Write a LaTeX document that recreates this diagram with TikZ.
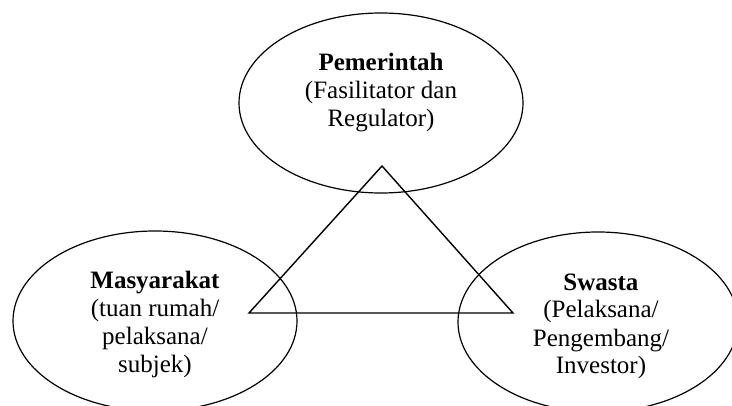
\documentclass[tikz,border=0pt]{standalone}
\usepackage{fontspec}
\setmainfont{Liberation Serif}
\usetikzlibrary{shapes.geometric}
\begin{document}
\begin{tikzpicture}[x=1pt,y=-1pt,
  actor/.style={draw,ellipse,line width=1.2pt,inner sep=0pt},
  lbl/.style={align=center,font=\fontsize{25}{28}\selectfont,inner sep=0pt,anchor=base},
  tri/.style={line width=1.4pt,line join=miter}]
\useasboundingbox (0,0) rectangle (732,406);
\clip (0,0) rectangle (732,406);
\node[actor,minimum width=284pt,minimum height=180pt] (gov) at (381,103) {};
\node[actor,minimum width=284pt,minimum height=180pt] (mas) at (155,321) {};
\node[actor,minimum width=280pt,minimum height=180pt] (swa) at (598,322) {};
\coordinate (apex) at (382,166);
\coordinate (bl) at (249,313);
\coordinate (br) at (513,313);
\draw[tri] (apex) -- (bl) -- (br) -- cycle;
\node[lbl] (govt) at (381,127) {\textbf{Pemerintah}\\(Fasilitator dan\\Regulator)};
\node[lbl] (mast) at (155,373) {\textbf{Masyarakat}\\(tuan rumah/\\pelaksana/\\subjek)};
\node[lbl] (swat) at (601,374) {\textbf{Swasta}\\(Pelaksana/\\Pengembang/\\Investor)};
\end{tikzpicture}
\end{document}
